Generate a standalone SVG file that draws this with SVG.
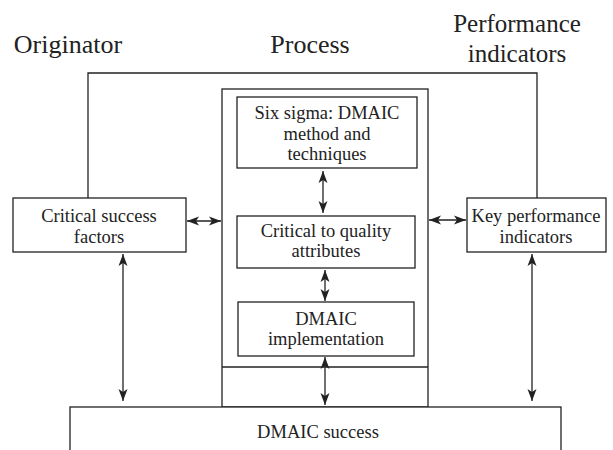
<svg xmlns="http://www.w3.org/2000/svg" width="613" height="450" viewBox="0 0 613 450">
<defs>
<style>
.box{fill:#fff;stroke:#222;stroke-width:1.3}
.ln{fill:none;stroke:#222;stroke-width:1.3}
.t{font-family:'Liberation Serif','Times New Roman',Times,'DejaVu Serif',serif;font-size:18.5px;fill:#222;text-anchor:middle}
.h{font-family:'Liberation Serif','Times New Roman',Times,'DejaVu Serif',serif;font-size:26px;fill:#222;text-anchor:middle}
</style>
<marker id="ah" viewBox="0 0 12 10" refX="12" refY="5" markerWidth="12" markerHeight="10" markerUnits="userSpaceOnUse" orient="auto-start-reverse">
<path d="M0,0.5 L12,5 L0,9.5 L3,5 z" fill="#222"/>
</marker>
</defs>
<rect width="613" height="450" fill="#fff"/>
<g id="headers">
<text class="h" x="68" y="53">Originator</text>
<text class="h" x="310" y="53">Process</text>
<text class="h" x="517" y="32" style="font-size:25px">Performance</text>
<text class="h" x="517" y="62" style="font-size:25px">indicators</text>
</g>
<g id="process">
<rect class="box" x="222" y="89" width="206" height="318"/>
<line class="ln" x1="222" y1="367" x2="428" y2="367"/>
</g>
<g id="success">
<rect class="box" x="70" y="407" width="491" height="50"/>
<text class="t" x="318" y="438">DMAIC success</text>
</g>
<g id="csf">
<rect class="box" x="13" y="198" width="173" height="54"/>
<text class="t" x="99" y="222">Critical success</text>
<text class="t" x="99" y="243">factors</text>
</g>
<g id="kpi">
<rect class="box" x="467" y="198" width="139" height="54"/>
<text class="t" x="536" y="222">Key performance</text>
<text class="t" x="536" y="243">indicators</text>
</g>
<g id="sixsigma">
<rect class="box" x="237" y="97" width="180" height="71"/>
<text class="t" x="327" y="119">Six sigma: DMAIC</text>
<text class="t" x="327" y="140">method and</text>
<text class="t" x="327" y="160">techniques</text>
</g>
<g id="ctq">
<rect class="box" x="237" y="216" width="178" height="52"/>
<text class="t" x="326" y="237">Critical to quality</text>
<text class="t" x="326" y="257">attributes</text>
</g>
<g id="impl">
<rect class="box" x="238" y="302" width="176" height="54"/>
<text class="t" x="326" y="325">DMAIC</text>
<text class="t" x="326" y="345">implementation</text>
</g>
<g id="connectors">
<polyline class="ln" points="88,198 88,73 537,73 537,198"/>
<line class="ln" x1="187" y1="221" x2="221" y2="221" marker-start="url(#ah)" marker-end="url(#ah)"/>
<line class="ln" x1="429" y1="220" x2="466" y2="220" marker-start="url(#ah)" marker-end="url(#ah)"/>
<line class="ln" x1="323" y1="171" x2="323" y2="213" marker-start="url(#ah)" marker-end="url(#ah)"/>
<line class="ln" x1="325" y1="270" x2="325" y2="301" marker-start="url(#ah)" marker-end="url(#ah)"/>
<line class="ln" x1="325" y1="357" x2="325" y2="405" marker-start="url(#ah)" marker-end="url(#ah)"/>
<line class="ln" x1="123" y1="254" x2="123" y2="401" marker-start="url(#ah)" marker-end="url(#ah)"/>
<line class="ln" x1="532" y1="254" x2="532" y2="401" marker-start="url(#ah)" marker-end="url(#ah)"/>
</g>
</svg>
